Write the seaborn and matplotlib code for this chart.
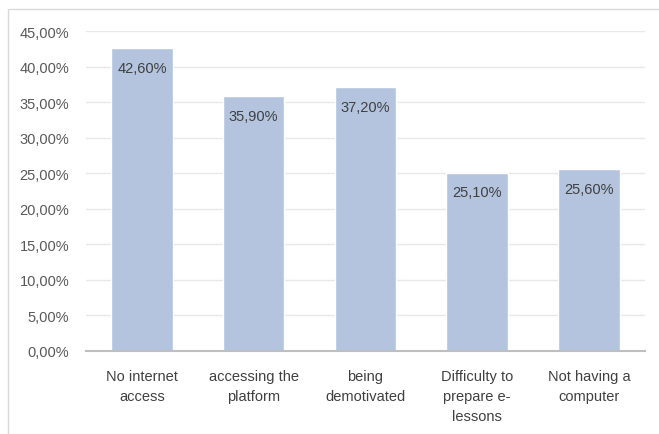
import matplotlib
matplotlib.use("Agg")
import matplotlib.pyplot as plt
import seaborn as sns
import pandas as pd
from matplotlib.patches import Rectangle

categories = ["No internet\naccess", "accessing the\nplatform", "being\ndemotivated",
              "Difficulty to\nprepare e-\nlessons", "Not having a\ncomputer"]
values = [42.6, 35.9, 37.2, 25.1, 25.6]
yticks = [0, 5, 10, 15, 20, 25, 30, 35, 40, 45]

df = pd.DataFrame({"cat": categories, "val": values})

sns.set_theme(style="white")
plt.rcParams['font.family'] = ['Liberation Sans', 'DejaVu Sans']

fig = plt.figure(figsize=(6.59, 4.35), dpi=100)
ax = fig.add_axes([0.1305, 0.191, 0.848, 0.735])

sns.barplot(data=df, x="cat", y="val", color="#B4C4DF", saturation=1, width=0.55, ax=ax, zorder=3)

ax.set_ylim(0, 45)
ax.set_yticks(yticks)
ax.set_yticklabels([f"{v:.2f}".replace(".", ",") + "%" for v in yticks], fontsize=10.5, color="#595959")
ax.tick_params(axis="x", labelsize=10.5, colors="#404040", length=0, pad=13)
for lbl in ax.get_xticklabels():
    lbl.set_linespacing(1.55)
ax.tick_params(axis="y", length=0, pad=12)
ax.yaxis.grid(True, color="#E8E8E8", linewidth=1, zorder=0)
ax.set_xlabel("")
ax.set_ylabel("")
for s in ["top", "right", "left"]:
    ax.spines[s].set_visible(False)
ax.spines["bottom"].set_color("#BFBFBF")
ax.spines["bottom"].set_linewidth(1.5)
ax.spines["bottom"].set_zorder(4)

for i, v in enumerate(values):
    ax.text(i, v - 2.8, (f"{v:.2f}".replace(".", ",") + "%"), ha="center", va="center",
            fontsize=10.5, color="#404040", zorder=5)

fig.patches.append(Rectangle((8/659, -0.01), 1.0, 1 - 10/435 + 0.01, transform=fig.transFigure,
                             fill=False, edgecolor="#D9D9D9", linewidth=1))

fig.savefig("out.png", dpi=100)
